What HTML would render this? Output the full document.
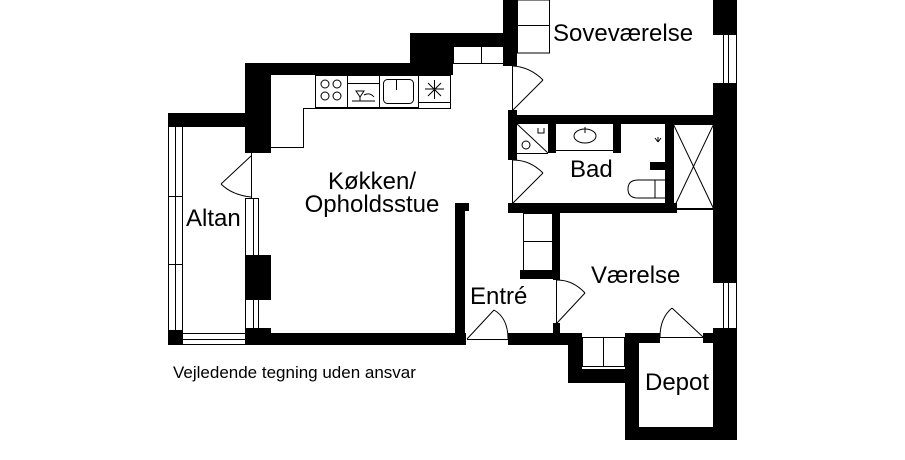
<!DOCTYPE html>
<html><head><meta charset="utf-8"><style>
html,body{margin:0;padding:0;background:#fff;}
svg{display:block}
text{font-family:"Liberation Sans",Arial,sans-serif;fill:#000}
</style></head><body>
<svg width="905" height="460" viewBox="0 0 905 460" xmlns="http://www.w3.org/2000/svg">
<g fill="#000">
<rect x="245" y="63" width="166" height="12"/>
<rect x="410" y="33" width="43" height="42"/>
<rect x="453" y="33" width="64" height="13"/>
<rect x="503" y="0" width="14" height="66"/>
<rect x="245" y="63" width="26" height="90"/>
<rect x="168" y="113" width="80" height="14"/>
<rect x="168" y="330" width="15" height="15"/>
<rect x="245" y="255" width="26" height="45"/>
<rect x="245" y="328" width="26" height="17"/>
<rect x="245" y="333" width="221" height="12"/>
<rect x="455" y="203" width="10" height="142"/>
<rect x="455" y="203" width="14" height="8"/>
<rect x="508" y="333" width="74" height="12"/>
<rect x="568" y="333" width="14" height="50"/>
<rect x="568" y="369" width="70" height="14"/>
<rect x="625" y="333" width="14" height="107"/>
<rect x="625" y="427" width="112" height="13"/>
<rect x="713" y="328" width="24" height="112"/>
<rect x="625" y="333" width="35" height="10"/>
<rect x="703" y="333" width="12" height="10"/>
<rect x="713" y="83" width="24" height="200"/>
<rect x="713" y="0" width="24" height="35"/>
<rect x="553" y="210" width="7" height="70"/>
<rect x="520" y="270" width="40" height="9"/>
<rect x="553" y="323" width="7" height="12"/>
<rect x="508" y="203" width="169" height="10"/>
<rect x="508" y="115" width="207" height="9"/>
<rect x="508" y="110" width="9" height="50"/>
<rect x="548" y="124" width="8" height="29"/>
<rect x="613" y="124" width="8" height="29"/>
<rect x="665" y="124" width="8" height="89"/>
<rect x="650" y="162" width="16" height="8"/>
</g>
<g fill="none" stroke="#000" stroke-width="1">
<rect x="423.5" y="46.5" width="20" height="20"/>
<line x1="423.5" y1="46.5" x2="443.5" y2="66.5"/><line x1="443.5" y1="46.5" x2="423.5" y2="66.5"/>
<rect x="453.5" y="46.5" width="57" height="17"/><line x1="481.5" y1="46" x2="481.5" y2="63"/>
<rect x="517.5" y="0" width="32" height="53"/><line x1="517" y1="25.5" x2="550" y2="25.5"/>
<polyline points="271,147.5 303.5,147.5 303.5,108.5 450.5,108.5 450.5,75"/>
<rect x="315.5" y="75.5" width="32" height="32"/>
<rect x="347.5" y="75.5" width="32" height="32"/>
<rect x="379.5" y="75.5" width="39" height="32"/>
<rect x="418.5" y="75.5" width="32" height="27"/>
<circle cx="325" cy="84" r="4"/><circle cx="337" cy="84" r="4"/><circle cx="325" cy="96" r="4"/><circle cx="337" cy="96" r="4"/>
<line x1="347" y1="83.5" x2="379" y2="83.5"/>
<rect x="383.5" y="79.5" width="30" height="24" rx="4"/><line x1="396.5" y1="79" x2="396.5" y2="90"/>
<path d="M352 101 H375 M356 91 L360 97 L364 91 Z M360 97 V101 M364 95 Q370 92 374 97"/>
<path d="M425 89 H444 M434.5 80 V99 M428 83 L441 96 M441 83 L428 96"/>
<line x1="168.5" y1="127" x2="168.5" y2="330"/><line x1="175.5" y1="127" x2="175.5" y2="330"/><line x1="182.5" y1="127" x2="182.5" y2="330"/>
<line x1="168" y1="196.5" x2="182" y2="196.5"/><line x1="168" y1="264.5" x2="182" y2="264.5"/>
<line x1="183" y1="333.5" x2="245" y2="333.5"/><line x1="183" y1="339.5" x2="245" y2="339.5"/><line x1="183" y1="344.5" x2="245" y2="344.5"/>
<line x1="245.5" y1="198" x2="245.5" y2="330"/><line x1="253.5" y1="198" x2="253.5" y2="330"/><line x1="258.5" y1="198" x2="258.5" y2="330"/>
<line x1="245" y1="198.5" x2="258" y2="198.5"/>
<line x1="251.5" y1="153" x2="251.5" y2="198"/>
<line x1="251" y1="156" x2="221" y2="184"/>
<path d="M221 184 Q232 195 251 197"/>
<line x1="467" y1="339.5" x2="508" y2="339.5"/>
<line x1="467" y1="339" x2="494" y2="310"/>
<path d="M494 310 Q508 318 508 339"/>
<line x1="512.5" y1="66" x2="512.5" y2="110"/>
<line x1="513" y1="110" x2="543" y2="80"/>
<path d="M543 80 Q530 67 513 66"/>
<line x1="512.5" y1="160" x2="512.5" y2="203"/>
<line x1="513" y1="203" x2="543" y2="173"/>
<path d="M543 173 Q530 160 513 160"/>
<line x1="517" y1="124" x2="548" y2="153"/><line x1="517" y1="153.5" x2="548" y2="153.5"/>
<circle cx="526" cy="145" r="4"/>
<path d="M538 128 v5 h6 v-5"/>
<line x1="556" y1="150.5" x2="613" y2="150.5"/>
<ellipse cx="585" cy="136" rx="11" ry="7"/><line x1="585" y1="127" x2="585" y2="133"/>
<path d="M655 138 l3 4 m0 -5 v5 m3 -4 l-3 4"/>
<path d="M665 180 H638 Q628 180 628 189 Q628 198 638 198 H665 M655 180 V198"/>
<rect x="673.5" y="124.5" width="40" height="84"/>
<line x1="673.5" y1="124.5" x2="713.5" y2="208.5"/><line x1="713.5" y1="124.5" x2="673.5" y2="208.5"/>
<line x1="677" y1="209.5" x2="713" y2="209.5"/>
<line x1="723.5" y1="35" x2="723.5" y2="83"/><line x1="728.5" y1="35" x2="728.5" y2="83"/><line x1="736.5" y1="35" x2="736.5" y2="83"/>
<line x1="723.5" y1="283" x2="723.5" y2="328"/><line x1="728.5" y1="283" x2="728.5" y2="328"/><line x1="736.5" y1="283" x2="736.5" y2="328"/>
<rect x="523.5" y="213.5" width="29" height="57"/><line x1="523" y1="241.5" x2="553" y2="241.5"/>
<line x1="556.5" y1="280" x2="556.5" y2="323"/>
<line x1="557" y1="323" x2="585" y2="293"/>
<path d="M585 293 Q573 280 557 280"/>
<rect x="582.5" y="337.5" width="42" height="29"/><line x1="603.5" y1="337" x2="603.5" y2="366"/>
<line x1="660" y1="337.5" x2="703" y2="337.5"/>
<line x1="703" y1="337" x2="672" y2="308"/>
<path d="M672 308 Q660 318 660 337"/>
</g>
<text x="553" y="41" font-size="24">Soveværelse</text>
<text x="372" y="189" font-size="24" text-anchor="middle">Køkken/</text>
<text x="372" y="212" font-size="24" text-anchor="middle">Opholdsstue</text>
<text x="186" y="226" font-size="24">Altan</text>
<text x="570" y="177" font-size="24">Bad</text>
<text x="470" y="304" font-size="24">Entré</text>
<text x="591" y="283" font-size="24">Værelse</text>
<text x="645" y="390" font-size="24">Depot</text>
<text x="173" y="378" font-size="17">Vejledende tegning uden ansvar</text>
</svg>
</body></html>
